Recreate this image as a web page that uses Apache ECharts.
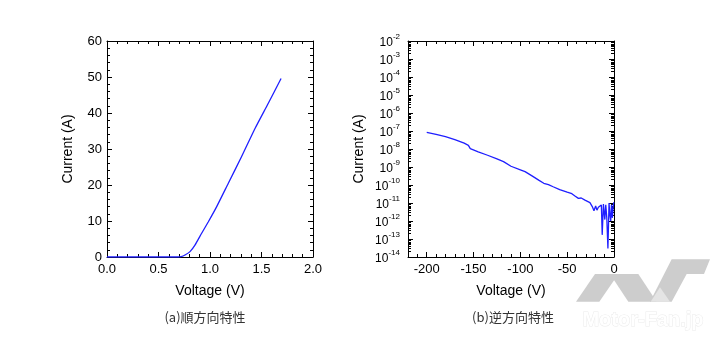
<!DOCTYPE html>
<html><head><meta charset="utf-8">
<script src="https://cdn.jsdelivr.net/npm/echarts@6/dist/echarts.min.js"></script>
<style>html,body{margin:0;padding:0;background:#fff}#c{width:720px;height:339px}</style>
</head><body><div id="c"></div>
<script>
// Forward characteristic (a)
const fwdV = [0,0.1,0.2,0.3,0.4,0.5,0.6,0.69,0.72,0.757,0.806,0.854,0.919,0.984,1.065,1.178,1.307,1.437,1.566,1.69];
const fwdI = [0,0,0,0,0,0,0,0,0.1,0.55,1.5,3.3,6.6,9.8,14,20.5,27.9,35.7,42.7,49.6];
// Reverse characteristic (b)
const revV = [-200,-190,-180,-170,-160,-155.5,-153.5,-145,-135,-125,-118,-110,-100,-95,-88,-80,-75,-70,-65,-58,-50,-45,-41.7,-38,-35,-31,-25.7,-23.2,-21.4,-19.6,-18.2,-16.7,-15,-13.5,-12.6,-11.3,-9.8,-8.8,-7.7,-6.5,-5.3,-4.5,-3.5,-2.7,-1.8,-1,-0.3];
const revI = [8.5e-8,6.5e-8,4.8e-8,3.3e-8,2.1e-8,1.6e-8,1.05e-8,7e-9,4.5e-9,2.8e-9,2e-9,1.1e-9,7e-10,5.5e-10,3.3e-10,1.8e-10,1.25e-10,1.05e-10,8e-11,5.5e-11,4e-11,3.3e-11,2.45e-11,1.8e-11,1.9e-11,1.45e-11,1.05e-11,6.3e-12,3.7e-12,6.8e-12,4e-12,5.8e-12,4.5e-12,7.8e-12,1.7e-13,8.7e-12,1.2e-12,8e-12,1.5e-12,3e-14,1e-11,2.5e-12,1e-12,8e-12,1.5e-12,5e-12,1.1e-11];
// Tick labels
const fwdXTicks = [0, 2.0];
const revXMajor = [-200,-150,-100,-50,0];
const captions = ['(a)順方向特性','(b)逆方向特性'];
const axisTitles = {x1:'Voltage (V)', y1:'Current (A)', x2:'Voltage (V)', y2:'Current (A)'};

const FONT = '"Liberation Sans", Arial, sans-serif';
const black = '#000';
function baseAxis(extra){
  return Object.assign({
    axisLine:{show:true,onZero:false,lineStyle:{color:black,width:1}},
    axisTick:{show:true,inside:true,length:5,lineStyle:{color:black}},
    minorTick:{show:true,splitNumber:5,length:3,lineStyle:{color:black}},
    splitLine:{show:false},
    axisLabel:{color:black,fontFamily:FONT,fontSize:13},
    nameTextStyle:{color:black,fontFamily:FONT,fontSize:14}
  }, extra);
}
function hideLabel(a){a.axisLabel={show:false};return a;}

const xAxes = [
  baseAxis({type:'value',gridIndex:0,position:'bottom',min:fwdXTicks[0],max:fwdXTicks[1],interval:0.5,
    axisLabel:{color:black,fontFamily:FONT,fontSize:13,margin:6,formatter:v=>v.toFixed(1)},
    name:axisTitles.x1,nameLocation:'middle',nameGap:27}),
  hideLabel(baseAxis({type:'value',gridIndex:0,position:'top',min:fwdXTicks[0],max:fwdXTicks[1],interval:0.5})),
  baseAxis({type:'value',gridIndex:1,position:'bottom',min:-220,max:0,interval:10,
    axisTick:{show:true,inside:true,length:3,lineStyle:{color:black}},minorTick:{show:false},
    axisLabel:{color:black,fontFamily:FONT,fontSize:13,margin:6,customValues:revXMajor},
    name:axisTitles.x2,nameLocation:'middle',nameGap:27}),
  hideLabel(baseAxis({type:'value',gridIndex:1,position:'bottom',min:-220,max:0,interval:10,
    axisLine:{show:false},minorTick:{show:false},
    axisTick:{show:true,inside:true,length:5,customValues:revXMajor,lineStyle:{color:black}}})),
  hideLabel(baseAxis({type:'value',gridIndex:1,position:'top',min:-220,max:0,interval:10,
    axisTick:{show:true,inside:true,length:3,lineStyle:{color:black}},minorTick:{show:false}})),
  hideLabel(baseAxis({type:'value',gridIndex:1,position:'top',min:-220,max:0,interval:10,
    axisLine:{show:false},minorTick:{show:false},
    axisTick:{show:true,inside:true,length:5,customValues:revXMajor,lineStyle:{color:black}}}))
];
const supFmt = v => '{b|10}{s|' + Math.round(Math.log10(v)) + '}';
const logRich = {b:{fontFamily:FONT,fontSize:12,color:black,lineHeight:16,verticalAlign:'bottom'},
                 s:{fontFamily:FONT,fontSize:8,color:black,lineHeight:8,verticalAlign:'top'}};
const yAxes = [
  baseAxis({type:'value',gridIndex:0,position:'left',min:0,max:60,interval:10,
    axisLabel:{color:black,fontFamily:FONT,fontSize:13,margin:5},
    name:axisTitles.y1,nameLocation:'middle',nameGap:32}),
  hideLabel(baseAxis({type:'value',gridIndex:0,position:'right',min:0,max:60,interval:10})),
  baseAxis({type:'log',logBase:10,gridIndex:1,position:'left',min:1e-14,max:1e-2,splitNumber:12,interval:1,
    minorTick:{show:true,splitNumber:9,length:3,lineStyle:{color:black}},
    axisLabel:{fontFamily:FONT,fontSize:12,color:black,margin:8,formatter:supFmt,rich:logRich},
    name:axisTitles.y2,nameLocation:'middle',nameGap:42}),
  hideLabel(baseAxis({type:'log',logBase:10,gridIndex:1,position:'right',min:1e-14,max:1e-2,splitNumber:12,interval:1,
    minorTick:{show:true,splitNumber:9,length:3,lineStyle:{color:black}}}))
];

const chart = echarts.init(document.getElementById('c'), null, {renderer:'canvas'});
const gray = '#cdcdcd';
function P(pts){return pts.map(p=>[560+p[0]/3, 250+p[1]/3]);}
const capStyle = {fontFamily:'"Noto Sans CJK JP", sans-serif',fontSize:13,fill:'#333',align:'center',verticalAlign:'middle'};
chart.setOption({
  animation:false,
  backgroundColor:'#fff',
  grid:[
    {left:107,top:41,width:206,height:216},
    {left:408,top:41,width:206,height:216}
  ],
  xAxis:xAxes,
  yAxis:yAxes,
  series:[
    {type:'line',xAxisIndex:0,yAxisIndex:0,showSymbol:false,smooth:0.2,
     data:fwdV.map((v,i)=>[v,fwdI[i]]),lineStyle:{color:'#1f1fff',width:1.3}},
    {type:'line',xAxisIndex:2,yAxisIndex:2,showSymbol:false,
     data:revV.map((v,i)=>[v,revI[i]]),lineStyle:{color:'#1f1fff',width:1.3}}
  ],
  graphic:[
    {type:'text',x:205,y:317,style:Object.assign({text:captions[0]},capStyle)},
    {type:'text',x:513,y:317,style:Object.assign({text:captions[1]},capStyle)},
    {type:'polygon',shape:{points:P([[48,155],[105,72],[175,72],[118,155]])},style:{fill:gray},z:100},
    {type:'polygon',shape:{points:P([[150,72],[235,72],[290,155],[205,155]])},style:{fill:gray},z:100},
    {type:'polygon',shape:{points:P([[270,155],[335,28],[450,28],[432,72],[380,72],[335,155]])},style:{fill:gray},z:100},
    {type:'polygon',shape:{points:P([[272,155],[300,112],[330,155]])},style:{fill:'#e4e4e4'},z:101},
    {type:'text',x:643,y:320,style:{text:'Motor-Fan.jp',fontFamily:FONT,fontWeight:'bold',fontSize:20,fill:'#fff',stroke:'#ebebeb',lineWidth:1,align:'center',verticalAlign:'middle'},z:100}
  ]
});
</script></body></html>
